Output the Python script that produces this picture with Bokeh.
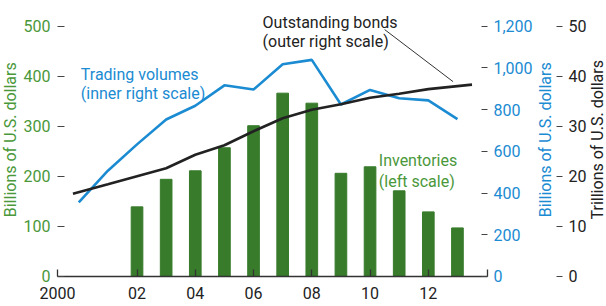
import math
from bokeh.plotting import figure
from bokeh.models import Range1d, LinearAxis, FixedTicker, Label, NumeralTickFormatter
from bokeh.embed import file_html
from bokeh.resources import INLINE

# ---- data ----
inv_years = [2002, 2003, 2004, 2005, 2006, 2007, 2008, 2009, 2010, 2011, 2012, 2013]
inventories = [139, 194, 211, 257, 301, 366, 346, 206, 219, 171, 129, 97]

vol_years = [2000, 2001, 2002, 2003, 2004, 2005, 2006, 2007, 2008, 2009, 2010, 2011, 2012, 2013]
volumes = [355, 507, 633, 752, 818, 916, 896, 1017, 1038, 824, 894, 854, 844, 754]

bond_x = [1999.8, 2001, 2002, 2003, 2004, 2005, 2006, 2007, 2008, 2009, 2010, 2011, 2012, 2013, 2013.5]
bonds = [16.5, 18.4, 20.0, 21.6, 24.3, 26.2, 29.0, 31.6, 33.3, 34.4, 35.7, 36.5, 37.4, 38.0, 38.3]

x_ticks = [1999.27, 2002, 2004, 2006, 2008, 2010, 2012, 2014.03]
x_tick_labels = ["2000", "02", "04", "06", "08", "10", "12", ""]
left_ticks = [0, 100, 200, 300, 400, 500]
inner_ticks = [0, 200, 400, 600, 800, 1000, 1200]
outer_ticks = [0, 10, 20, 30, 40, 50]

leader_x = [2010.5, 2012.85]
leader_y = [493, 389]

# ---- style / layout ----
GREEN_BAR = "#377b2b"
GREEN_TXT = "#4a983a"
BLUE = "#1b8bd2"
BLACK = "#222222"
FONT = "Roboto"
FS = "16px"

X0, X1 = 1999.27, 2014.03          # extent of the time axis
XSTART, XEND = 1997.313, 2018.117  # frame spans the whole canvas
INNER_AT = X1
OUTER_AT = 2016.40
YBOT, YTOP = -59.9, 551

p = figure(width=606, height=306, output_backend="svg", toolbar_location=None,
           title=None, x_range=Range1d(XSTART, XEND), y_range=Range1d(YBOT, YTOP),
           min_border_left=0, min_border_right=0, min_border_top=0, min_border_bottom=0)
p.outline_line_color = None
p.grid.visible = False
p.background_fill_color = "white"
p.border_fill_color = "white"

p.extra_y_ranges = {"inner": Range1d(YBOT * 2.4, YTOP * 2.4),
                    "outer": Range1d(YBOT / 10, YTOP / 10)}

# bars
p.vbar(x=inv_years, top=inventories, width=0.4, color=GREEN_BAR)
# lines
p.line(vol_years, volumes, y_range_name="inner", line_color=BLUE, line_width=2.6)
p.line(bond_x, bonds, y_range_name="outer", line_color=BLACK, line_width=2.6)
p.line(leader_x, leader_y, line_color="#333333", line_width=1)


def style_y(ax, color, ticks, tin, tout):
    ax.ticker = FixedTicker(ticks=ticks)
    ax.axis_line_color = None
    ax.major_tick_in = tin
    ax.major_tick_out = tout
    ax.minor_tick_line_color = None
    ax.major_tick_line_color = "#444444"
    ax.major_tick_line_width = 1.2
    ax.major_label_text_color = color
    ax.major_label_text_font = FONT
    ax.major_label_text_font_size = FS


# left axis (fixed at the start of the time axis)
ly = p.yaxis[0]
ly.fixed_location = X0
style_y(ly, GREEN_TXT, left_ticks, 7, 0)
ly.major_label_standoff = 7

# inner right axis
ia = LinearAxis(y_range_name="inner", fixed_location=INNER_AT)
style_y(ia, BLUE, inner_ticks, 6, 0)
ia.formatter = NumeralTickFormatter(format="0,0")
ia.major_label_standoff = 6
p.add_layout(ia, "right")

# outer right axis
oa = LinearAxis(y_range_name="outer", fixed_location=OUTER_AT)
style_y(oa, BLACK, outer_ticks, 0, 6)
oa.major_label_standoff = 6
p.add_layout(oa, "right")

# x axis (fixed at zero)
xa = p.xaxis[0]
xa.fixed_location = 0
xa.bounds = (X0, X1)
xa.ticker = FixedTicker(ticks=x_ticks)
xa.major_label_overrides = {t: l for t, l in zip(x_ticks, x_tick_labels)}
xa.major_tick_in = 7
xa.major_tick_out = 0
xa.minor_tick_line_color = None
xa.axis_line_color = "#333333"
xa.axis_line_width = 1.3
xa.major_tick_line_color = "#333333"
xa.major_tick_line_width = 1.3
xa.major_label_standoff = 11
xa.major_label_text_font = FONT
xa.major_label_text_font_size = FS
xa.major_label_text_color = BLACK


def add_text(x, y, txt, color, angle=0.0, align="left", baseline="alphabetic"):
    p.add_layout(Label(x=x, y=y, text=txt, text_color=color, text_font=FONT,
                       text_font_size=FS, text_baseline=baseline, text_align=align,
                       angle=angle))


# scale titles (read bottom-to-top)
add_text(1997.66, 273, "Billions of U.S. dollars", GREEN_TXT, math.pi / 2, "center", "middle")
add_text(2016.02, 273, "Billions of U.S. dollars", BLUE, math.pi / 2, "center", "middle")
add_text(2017.80, 273, "Trillions of U.S. dollars", BLACK, math.pi / 2, "center", "middle")

# series annotations
add_text(2000.07, 404, "Trading volumes", BLUE)
add_text(2000.07, 365, "(inner right scale)", BLUE)
add_text(2006.31, 508, "Outstanding bonds", BLACK)
add_text(2006.31, 469, "(outer right scale)", BLACK)
add_text(2010.3, 231.5, "Inventories", GREEN_TXT)
add_text(2010.3, 189.6, "(left scale)", GREEN_TXT)

open("out.html", "w").write(file_html(p, INLINE))
